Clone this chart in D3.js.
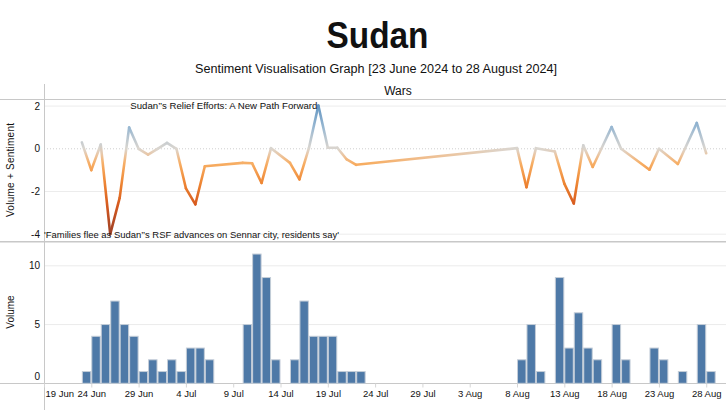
<!DOCTYPE html>
<html>
<head>
<meta charset="utf-8">
<script src="https://cdn.jsdelivr.net/npm/d3@7/dist/d3.min.js"></script>
<style>
  html, body { margin: 0; padding: 0; background: #fff; }
  svg { display: block; }
  text { font-family: "Liberation Sans", Arial, sans-serif; fill: #111; }
</style>
</head>
<body>
<svg id="chart" width="726" height="410"></svg>
<script>
// ---------------- DATA ----------------
const dates = [
  "2024-06-23","2024-06-24","2024-06-25","2024-06-26","2024-06-27","2024-06-28","2024-06-29","2024-06-30",
  "2024-07-01","2024-07-02","2024-07-03","2024-07-04","2024-07-05","2024-07-06",
  "2024-07-10","2024-07-11","2024-07-12","2024-07-13","2024-07-15","2024-07-16","2024-07-17","2024-07-18",
  "2024-07-19","2024-07-20","2024-07-21","2024-07-22",
  "2024-08-08","2024-08-09","2024-08-10","2024-08-12","2024-08-13","2024-08-14","2024-08-15","2024-08-16",
  "2024-08-18","2024-08-19","2024-08-22","2024-08-23","2024-08-25","2024-08-27","2024-08-28"
];
const volume = [
  1,4,5,7,5,4,1,2,
  1,2,1,3,3,2,
  5,11,9,2,2,7,4,4,
  4,1,1,1,
  2,5,1,9,3,6,3,2,
  5,2,3,2,1,5,1
];
const sentiment = [
  0.3,-1.0,0.2,-4.0,-2.3,1.0,0.0,-0.27,
  0.0,0.28,0.0,-1.85,-2.6,-0.82,
  -0.66,-0.68,-1.6,0.03,-0.66,-1.43,0.03,2.03,
  0.05,0.05,-0.5,-0.75,
  0.03,-1.8,0.03,-0.13,-1.63,-2.56,0.16,-0.85,
  1.02,0.0,-0.98,0.0,-0.71,1.21,-0.21
];
const xTickLabels = ["19 Jun","24 Jun","29 Jun","4 Jul","9 Jul","14 Jul","19 Jul","24 Jul",
  "29 Jul","3 Aug","8 Aug","13 Aug","18 Aug","23 Aug","28 Aug"];
const sentimentTicks = [2, 0, -2, -4];
const volumeTicks = [0, 5, 10];
const annotations = [
  {date: "2024-07-18", text: "Sudan\u2019\u2019s Relief Efforts: A New Path Forward", pos: "top"},
  {date: "2024-06-26", text: "'Families flee as Sudan\u2019\u2019s RSF advances on Sennar city, residents say'", pos: "bottom"}
];
const titleText = "Sudan";
const subtitleText = "Sentiment Visualisation Graph [23 June 2024 to 28 August 2024]";
const headerText = "Wars";

// ---------------- SETUP ----------------
const svg = d3.select("#chart");
const parse = d3.utcParse("%Y-%m-%d");
const parseTick = d3.utcParse("%d %b %Y");
const DAY = 86400000;
const data = dates.map((d, i) => ({date: parse(d), vol: volume[i], sent: sentiment[i]}));

const x0 = parse("2024-06-19");
const x = d3.scaleUtc()
  .domain([x0, new Date(+x0 + 72.09 * DAY)])
  .range([44, 726]);
const yTop = d3.scaleLinear().domain([-4, 2]).range([234.2, 106.1]);
const yBot = d3.scaleLinear().domain([0, 10]).range([383.3, 265.8]);

const color = d3.scaleLinear()
  .domain([-4, -2.6, -1.6, -0.7, 0, 1, 2, 4])
  .range(["#9c3f25", "#d75a1e", "#ee8633", "#f7ad62", "#dbd6cf", "#98b8d2", "#6497c2", "#2f5f8d"])
  .interpolate(d3.interpolateLab)
  .clamp(true);

const gridC = "#ececec", frameC = "#c8c8c8";

// ---------------- TITLES ----------------
svg.append("text").attr("x", 377.5).attr("y", 48).attr("text-anchor", "middle")
  .attr("font-size", 36).attr("font-weight", "bold")
  .attr("textLength", 102).attr("lengthAdjust", "spacingAndGlyphs").text(titleText);
svg.append("text").attr("x", 376).attr("y", 73).attr("text-anchor", "middle")
  .attr("font-size", 12.5)
  .attr("textLength", 362).attr("lengthAdjust", "spacingAndGlyphs").text(subtitleText);
svg.append("text").attr("x", 398).attr("y", 95).attr("text-anchor", "middle")
  .attr("font-size", 12).text(headerText);

// ---------------- GRIDLINES ----------------
const gTop = svg.append("g");
sentimentTicks.forEach(t => {
  gTop.append("line").attr("x1", 44).attr("x2", 726)
    .attr("y1", yTop(t)).attr("y2", yTop(t))
    .attr("stroke", t === 0 ? "#cfcfcf" : gridC)
    .attr("stroke-width", 1)
    .attr("stroke-dasharray", t === 0 ? "1,2" : null);
  gTop.append("text").attr("x", 40).attr("y", yTop(t)).attr("dy", "0.35em")
    .attr("text-anchor", "end").attr("font-size", 10).text(t);
});
const gBot = svg.append("g");
volumeTicks.forEach(t => {
  if (t !== 0) {
    gBot.append("line").attr("x1", 44).attr("x2", 726)
      .attr("y1", yBot(t)).attr("y2", yBot(t))
      .attr("stroke", gridC).attr("stroke-width", 1);
  }
  gBot.append("text").attr("x", 40).attr("y", t === 0 ? yBot(t) - 7 : yBot(t)).attr("dy", "0.35em")
    .attr("text-anchor", "end").attr("font-size", 10).text(t);
});

// ---------------- FRAME ----------------
svg.append("line").attr("x1", 0).attr("x2", 726).attr("y1", 99.5).attr("y2", 99.5).attr("stroke", frameC);
svg.append("line").attr("x1", 0).attr("x2", 726).attr("y1", 241.7).attr("y2", 241.7).attr("stroke", frameC).attr("stroke-width", 1.5);
svg.append("line").attr("x1", 0).attr("x2", 726).attr("y1", 383.5).attr("y2", 383.5).attr("stroke", frameC);
svg.append("line").attr("x1", 44.5).attr("x2", 44.5).attr("y1", 84).attr("y2", 410).attr("stroke", frameC);

// axis titles
svg.append("text").attr("transform", "translate(14,170) rotate(-90)")
  .attr("text-anchor", "middle").attr("font-size", 10)
  .attr("textLength", 94).attr("lengthAdjust", "spacing").text("Volume + Sentiment");
svg.append("text").attr("transform", "translate(14,312) rotate(-90)")
  .attr("text-anchor", "middle").attr("font-size", 10).text("Volume");

// ---------------- BARS ----------------
svg.append("g").selectAll("rect").data(data).join("rect")
  .attr("x", d => x(d.date) + 0.5)
  .attr("width", d => x(new Date(+d.date + DAY)) - x(d.date) - 1)
  .attr("y", d => yBot(d.vol))
  .attr("height", d => yBot(0) - yBot(d.vol))
  .attr("fill", "#4e79a7")
  .attr("stroke", "#c4cdd8")
  .attr("stroke-width", 1);

// ---------------- X AXIS ----------------
const tickDates = xTickLabels.map(l => parseTick(l + " 2024"));
const xAxis = d3.axisBottom(x).tickValues(tickDates).tickSize(4)
  .tickFormat((d, i) => xTickLabels[i]);
const gx = svg.append("g").attr("transform", "translate(0,383.5)").call(xAxis);
gx.select(".domain").remove();
gx.selectAll(".tick line").attr("stroke", "#d6d6d6");
gx.selectAll(".tick text").attr("font-size", 9.5).attr("fill", "#111")
  .attr("font-family", "Liberation Sans, Arial, sans-serif").attr("y", 7).attr("dy", "0.71em");
gx.selectAll(".tick").filter((d, i) => i === 0).select("text")
  .attr("text-anchor", "start").attr("x", 45 - x(tickDates[0]));

// ---------------- SENTIMENT LINE ----------------
const defs = svg.append("defs");
const gLine = svg.append("g");
for (let i = 0; i < data.length - 1; i++) {
  const a = data[i], b = data[i + 1];
  const x1 = x(a.date), y1 = yTop(a.sent), x2 = x(b.date), y2 = yTop(b.sent);
  const id = "seg" + i;
  const grad = defs.append("linearGradient").attr("id", id)
    .attr("gradientUnits", "userSpaceOnUse")
    .attr("x1", x1).attr("y1", y1).attr("x2", x2).attr("y2", y2);
  const n = 10;
  for (let k = 0; k <= n; k++) {
    const t = k / n;
    grad.append("stop").attr("offset", t).attr("stop-color", color(a.sent + (b.sent - a.sent) * t));
  }
  gLine.append("path")
    .attr("d", d3.line()([[x1, y1], [x2, y2]]))
    .attr("stroke", `url(#${id})`)
    .attr("stroke-width", 2.6)
    .attr("stroke-linecap", "round")
    .attr("fill", "none");
}

// ---------------- ANNOTATIONS ----------------
annotations.forEach(an => {
  const d = parse(an.date);
  if (an.pos === "top") {
    svg.append("text").attr("x", x(d) - 1).attr("y", 109.3)
      .attr("text-anchor", "end").attr("font-size", 9.5)
      .attr("textLength", 187).attr("lengthAdjust", "spacingAndGlyphs").text(an.text);
  } else {
    svg.append("text").attr("x", 44).attr("y", 237.5)
      .attr("text-anchor", "start").attr("font-size", 9.5)
      .attr("textLength", 295).attr("lengthAdjust", "spacingAndGlyphs").text(an.text);
  }
});
</script>
</body>
</html>
